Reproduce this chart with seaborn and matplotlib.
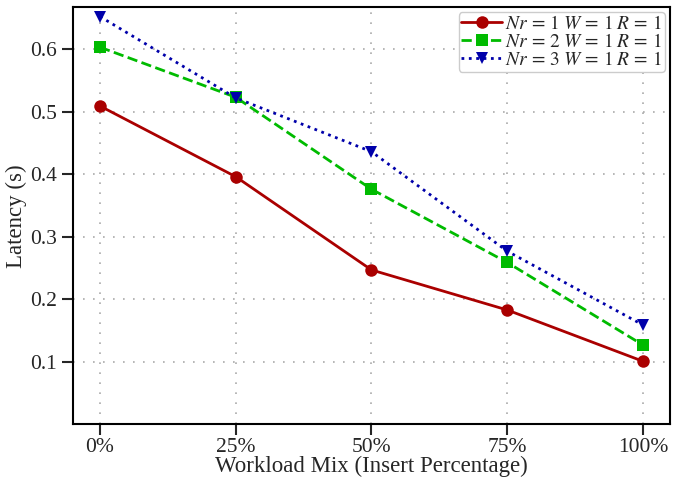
import matplotlib
matplotlib.use("Agg")
import matplotlib.pyplot as plt
import numpy as np
import pandas as pd
import seaborn as sns

mix_labels = ["0%", "25%", "50%", "75%", "100%"]
series_names = [r"$Nr\,=\,1\;W\,=\,1\;R\,=\,1$",
                r"$Nr\,=\,2\;W\,=\,1\;R\,=\,1$",
                r"$Nr\,=\,3\;W\,=\,1\;R\,=\,1$"]
lat_nr1 = [0.509, 0.396, 0.247, 0.183, 0.101]
lat_nr2 = [0.603, 0.523, 0.376, 0.259, 0.127]
lat_nr3 = [0.652, 0.522, 0.436, 0.277, 0.159]

COLORS = ["#aa0000", "#00bb00", "#0000aa"]
MARKERS = ["o", "s", "v"]
STYLES = ["-", "--", ":"]

sns.set_style("ticks")
plt.rcParams["font.family"] = ["Liberation Serif", "DejaVu Serif"]
plt.rcParams["mathtext.fontset"] = "stix"

rows = []
for name, vals in zip(series_names, [lat_nr1, lat_nr2, lat_nr3]):
    for i, v in enumerate(vals):
        rows.append({"x": i, "latency": v, "series": name})
df = pd.DataFrame(rows)

fig, ax = plt.subplots(figsize=(6.81, 4.78), dpi=100)
for name, c, m, ls in zip(series_names, COLORS, MARKERS, STYLES):
    sub = df[df["series"] == name]
    sns.lineplot(data=sub, x="x", y="latency", ax=ax, color=c, marker=m,
                 linestyle=ls, linewidth=2, markersize=9, markeredgewidth=0,
                 label=name)

ax.set_xlim(-0.2, 4.2)
ax.set_ylim(0.0, 0.667)
ax.set_xticks(range(len(mix_labels)))
ax.set_xticklabels(mix_labels)
ax.set_yticks([0.1, 0.2, 0.3, 0.4, 0.5, 0.6])
ax.grid(True, color="#aaaaaa", linestyle=(0, (1, 5)), linewidth=1.2)
ax.tick_params(direction="out", length=8, width=1.5, labelsize=15.5)
ax.tick_params(axis="x", pad=2)
for s in ax.spines.values():
    s.set_linewidth(1.5)
    s.set_color("black")
ax.set_xlabel("Workload Mix (Insert Percentage)", fontsize=16.5, labelpad=-1)
ax.set_ylabel("Latency (s)", fontsize=16.5, labelpad=2)
leg = ax.legend(loc="upper right", fontsize=14, handlelength=2.1,
                borderpad=0.15, labelspacing=0.0, handletextpad=0.15,
                borderaxespad=0.25, fancybox=True, framealpha=1)
leg.get_frame().set_edgecolor("#cccccc")

fig.subplots_adjust(left=0.107, right=0.984, top=0.985, bottom=0.112)
fig.savefig("out.png", dpi=100)
